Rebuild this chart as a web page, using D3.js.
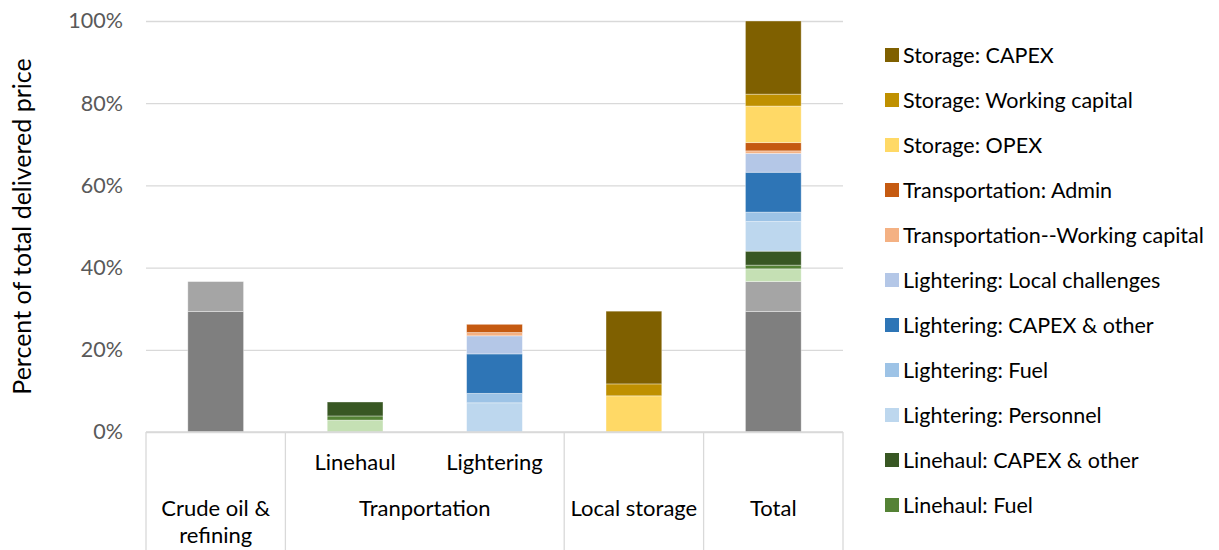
<!DOCTYPE html>
<html>
<head>
<meta charset="utf-8">
<script src="https://cdn.jsdelivr.net/npm/d3@7"></script>
<style>
  body { margin: 0; background: #fff; }
  text { font-family: Lato, "Open Sans", sans-serif; }
</style>
</head>
<body>
<svg id="drawing_region"></svg>
<script>
// columns of the chart
const categories = ["Crude oil & refining", "Linehaul", "Lightering", "Local storage", "Total"];
const sub_labels = ["", "Linehaul", "Lightering", "", ""];
const group_labels = [["Crude oil &", "refining"], ["Tranportation"], ["Local storage"], ["Total"]];
const group_spans = [[0, 0], [1, 2], [3, 3], [4, 4]];

// series values (percent of total delivered price), one value per column
const crude_oil            = [29.3, 0,   0,   0,    29.3];
const refining             = [7.3,  0,   0,   0,    7.3];
const linehaul_personnel   = [0,    2.9, 0,   0,    3.1];
const linehaul_fuel        = [0,    1.0, 0,   0,    0.9];
const linehaul_capex       = [0,    3.4, 0,   0,    3.4];
const lightering_personnel = [0,    0,   7.1, 0,    7.2];
const lightering_fuel      = [0,    0,   2.3, 0,    2.3];
const lightering_capex     = [0,    0,   9.6, 0,    9.7];
const lightering_local     = [0,    0,   4.4, 0,    4.6];
const transport_wc         = [0,    0,   0.8, 0,    0.6];
const transport_admin      = [0,    0,   2.0, 0,    2.0];
const storage_opex         = [0,    0,   0,   8.8,  8.9];
const storage_wc           = [0,    0,   0,   2.9,  2.9];
const storage_capex        = [0,    0,   0,   17.7, 17.8];

// series names, bottom of the stack first
const series_names = [
    "Crude oil", "Refining",
    "Linehaul: Personnel", "Linehaul: Fuel", "Linehaul: CAPEX & other",
    "Lightering: Personnel", "Lightering: Fuel", "Lightering: CAPEX & other", "Lightering: Local challenges",
    "Transportation--Working capital", "Transportation: Admin",
    "Storage: OPEX", "Storage: Working capital", "Storage: CAPEX"
];
const series_values = [
    crude_oil, refining,
    linehaul_personnel, linehaul_fuel, linehaul_capex,
    lightering_personnel, lightering_fuel, lightering_capex, lightering_local,
    transport_wc, transport_admin,
    storage_opex, storage_wc, storage_capex
];
const series_colors = [
    "#7f7f7f", "#a5a5a5",
    "#c5e0b4", "#548235", "#385723",
    "#bdd7ee", "#9dc3e6", "#2e75b6", "#b4c7e7",
    "#f4b183", "#c55a11",
    "#ffd966", "#bf9000", "#7f6000"
];

const y_ticks = [0, 20, 40, 60, 80, 100];

var config = {
    parent: '#drawing_region',
    width: 1219,
    height: 550,
    margin: {top: 21, right: 376, bottom: 118, left: 146}
};

class StackedBar {
    constructor(config) {
        this.config = config;
        this.init();
    }

    init() {
        let self = this;
        self.svg = d3.select(self.config.parent)
                     .attr('width', self.config.width)
                     .attr('height', self.config.height);

        self.chart = self.svg.append('g')
                         .attr('transform', `translate(${self.config.margin.left}, ${self.config.margin.top})`);

        self.inner_width = self.config.width - self.config.margin.left - self.config.margin.right;
        self.inner_height = self.config.height - self.config.margin.top - self.config.margin.bottom;

        self.xscale = d3.scaleBand()
                        .domain(categories)
                        .range([0, self.inner_width])
                        .paddingInner(0.6)
                        .paddingOuter(0.3);

        self.yscale = d3.scaleLinear()
                        .domain([0, 100])
                        .range([self.inner_height, 0]);

        self.color = d3.scaleOrdinal().domain(series_names).range(series_colors);
    }

    render() {
        let self = this;

        // table for d3.stack
        const table = categories.map((c, i) => {
            const row = {category: c};
            series_names.forEach((s, j) => row[s] = series_values[j][i]);
            return row;
        });
        const stacked = d3.stack().keys(series_names)(table);

        // gridlines + y axis labels
        const yaxis = d3.axisLeft(self.yscale)
                        .tickValues(y_ticks)
                        .tickFormat(d => d + "%")
                        .tickSize(-self.inner_width)
                        .tickPadding(23);
        const yg = self.chart.append('g').call(yaxis);
        yg.select('.domain').remove();
        yg.selectAll('.tick line')
          .attr('stroke', '#d9d9d9')
          .attr('stroke-width', 1.3);
        yg.selectAll('.tick text')
          .attr('fill', '#595959')
          .attr('font-size', '21.5px');

        // bars
        self.chart.append('g')
            .selectAll('g')
            .data(stacked)
            .join('g')
            .attr('fill', d => self.color(d.key))
            .selectAll('rect')
            .data(d => d.filter(p => p[1] - p[0] > 0))
            .join('rect')
            .attr('x', d => self.xscale(d.data.category))
            .attr('width', self.xscale.bandwidth())
            .attr('y', d => self.yscale(d[1]))
            .attr('height', d => self.yscale(d[0]) - self.yscale(d[1]))
            .attr('stroke', '#ffffff')
            .attr('stroke-opacity', 0.45)
            .attr('stroke-width', 0.8);

        // multi-level category axis
        const step = self.xscale.step();
        const x0 = self.xscale(categories[0]) - self.xscale.paddingOuter() * step;
        const axis = self.chart.append('g').attr('transform', `translate(0, ${self.inner_height})`);

        axis.append('line')
            .attr('x1', 0).attr('x2', self.inner_width)
            .attr('y1', 0).attr('y2', 0)
            .attr('stroke', '#d9d9d9').attr('stroke-width', 1.3);

        const bounds = [0].concat(group_spans.map(s => s[1] + 1));
        axis.selectAll('.divider')
            .data(bounds)
            .join('line')
            .attr('class', 'divider')
            .attr('x1', d => x0 + d * step).attr('x2', d => x0 + d * step)
            .attr('y1', 0).attr('y2', self.config.margin.bottom)
            .attr('stroke', '#d9d9d9').attr('stroke-width', 1.3);

        axis.selectAll('.sub')
            .data(categories.filter((c, i) => sub_labels[i] !== ""))
            .join('text')
            .attr('class', 'sub')
            .attr('x', d => self.xscale(d) + self.xscale.bandwidth() / 2)
            .attr('y', 38)
            .attr('text-anchor', 'middle')
            .attr('font-size', '22px')
            .attr('fill', '#000')
            .text(d => sub_labels[categories.indexOf(d)]);

        group_labels.forEach((lines, g) => {
            const cx = x0 + (group_spans[g][0] + group_spans[g][1] + 1) / 2 * step;
            const t = axis.append('text')
                .attr('text-anchor', 'middle')
                .attr('font-size', '22px')
                .attr('fill', '#000');
            lines.forEach((l, k) => {
                t.append('tspan')
                 .attr('x', cx)
                 .attr('y', 84 + k * 27)
                 .text(l);
            });
        });

        // y label
        self.chart.append('text')
            .attr('transform', `translate(${-self.config.margin.left + 31}, ${self.inner_height / 2}) rotate(-90)`)
            .attr('text-anchor', 'middle')
            .attr('font-size', '25px')
            .attr('fill', '#000')
            .text('Percent of total delivered price');

        // legend, top of the stack first; only the entries that fit in the frame
        const legend_names = series_names.slice().reverse()
            .filter((d, i) => 55 + i * 45 + 12 < self.config.height);
        const legend = self.svg.append('g').attr('transform', 'translate(885, 55)');
        const items = legend.selectAll('g')
            .data(legend_names)
            .join('g')
            .attr('transform', (d, i) => `translate(0, ${i * 45})`);
        items.append('rect')
            .attr('x', 0).attr('y', -7)
            .attr('width', 14).attr('height', 14)
            .attr('fill', d => self.color(d));
        items.append('text')
            .attr('x', 18)
            .attr('y', 0)
            .attr('dy', '0.35em')
            .attr('font-size', '21.5px')
            .attr('fill', '#000')
            .text(d => d);
    }
}

const stacked_bar = new StackedBar(config);
stacked_bar.render();
</script>
</body>
</html>
